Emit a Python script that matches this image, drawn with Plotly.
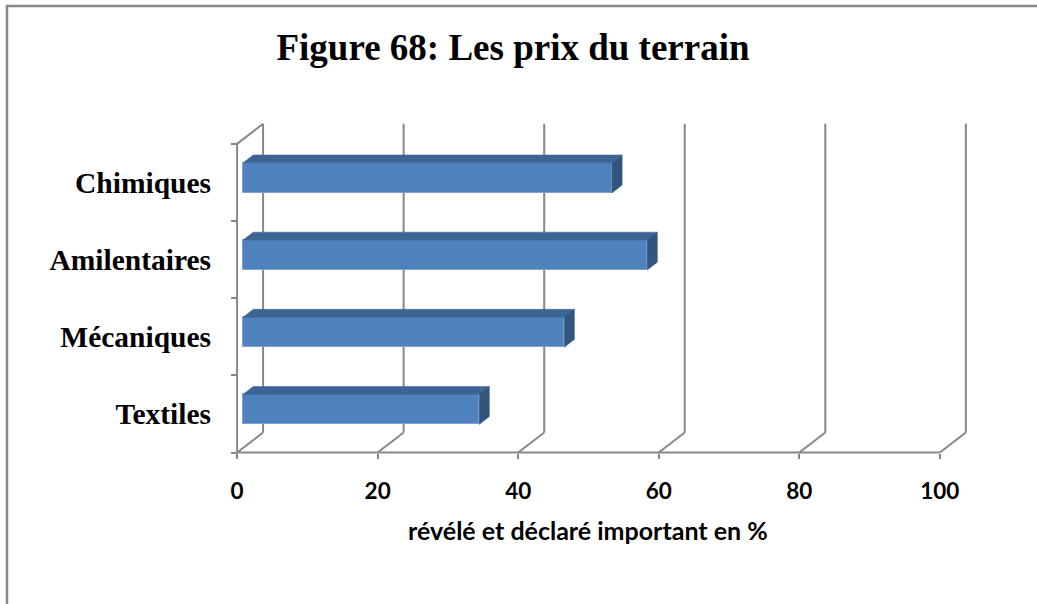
import plotly.graph_objects as go

# Survey results: share of firms that flagged land prices as important (%)
categories = ["Textiles", "Mécaniques", "Amilentaires", "Chimiques"]
values = [33.6, 45.7, 57.5, 52.5]
x_ticks = [0, 20, 40, 60, 80, 100]

title_text = "Figure 68: Les prix du terrain"
x_title = "révélé et déclaré important en %"

# Oblique "3-D" look: depth of the chart walls in data units
DEPTH_X, DEPTH_Y = 3.7, 0.26
BAR_FRONT, BAR_BACK = 0.23, 0.62      # bar slab position inside the depth
BAR_HALF = 0.195                       # half thickness of each bar

X_RANGE = [-3, 106]
Y_RANGE = [-0.7, 3.9]
W, H = 1037, 604
M = dict(l=216, r=55, t=113, b=136)

GRID = "#878787"
FRONT = "#4F81BD"
TOP = "#3D6594"
SIDE = "#31557F"

pos = list(range(len(categories)))
y_lo, y_hi = -0.5, len(categories) - 0.5

fx0, fy0 = BAR_FRONT * DEPTH_X, BAR_FRONT * DEPTH_Y
bx0, by0 = BAR_BACK * DEPTH_X, BAR_BACK * DEPTH_Y
ddx, ddy = bx0 - fx0, by0 - fy0

fig = go.Figure()

# Walls: back gridlines, floor diagonals and the left wall edges
shapes = []
line = dict(color=GRID, width=2)
for v in x_ticks:
    shapes.append(dict(type="line", x0=v + DEPTH_X, x1=v + DEPTH_X,
                       y0=y_lo + DEPTH_Y, y1=y_hi + DEPTH_Y, line=line))
    shapes.append(dict(type="line", x0=v, x1=v + DEPTH_X,
                       y0=y_lo, y1=y_lo + DEPTH_Y, line=line))
shapes.append(dict(type="line", x0=0, x1=0, y0=y_lo, y1=y_hi, line=line))
shapes.append(dict(type="line", x0=0, x1=DEPTH_X, y0=y_hi, y1=y_hi + DEPTH_Y, line=line))
shapes.append(dict(type="line", x0=x_ticks[0], x1=x_ticks[-1], y0=y_lo, y1=y_lo, line=line))
for s in shapes:
    s.update(xref="x", yref="y", layer="below")

# Outer frame of the chart area (pixel based, converted to paper units)
def px_to_paper(px, py):
    pw = W - M["l"] - M["r"]
    ph = H - M["t"] - M["b"]
    return (px - M["l"]) / pw, (H - M["b"] - py) / ph

fx_a, fy_a = px_to_paper(7, 6)
fx_b, fy_b = px_to_paper(W + 20, H + 20)
shapes.append(dict(type="rect", xref="paper", yref="paper",
                   x0=fx_a, y0=fy_b, x1=fx_b, y1=fy_a,
                   line=dict(color=GRID, width=2.5), layer="below"))

# Front faces of the bars
fig.add_trace(go.Bar(
    orientation="h",
    y=[p + fy0 for p in pos],
    x=values,
    base=fx0,
    width=2 * BAR_HALF,
    marker=dict(color=FRONT, line=dict(color="#7FA3D0", width=1)),
    hoverinfo="skip",
    showlegend=False,
))

# Top and right-hand faces of each bar
for p, v in zip(pos, values):
    yt = p + fy0 + BAR_HALF
    yb = p + fy0 - BAR_HALF
    xr = fx0 + v
    fig.add_trace(go.Scatter(
        x=[fx0, xr, xr + ddx, fx0 + ddx, fx0],
        y=[yt, yt, yt + ddy, yt + ddy, yt],
        mode="lines", fill="toself", fillcolor=TOP,
        line=dict(color=TOP, width=0.5),
        hoverinfo="skip", showlegend=False))
    fig.add_trace(go.Scatter(
        x=[xr, xr + ddx, xr + ddx, xr, xr],
        y=[yt, yt + ddy, yb + ddy, yb, yt],
        mode="lines", fill="toself", fillcolor=SIDE,
        line=dict(color=SIDE, width=0.5),
        hoverinfo="skip", showlegend=False))

x_pos = (y_lo - Y_RANGE[0]) / (Y_RANGE[1] - Y_RANGE[0])
y_pos = (0 - X_RANGE[0]) / (X_RANGE[1] - X_RANGE[0])

fig.update_layout(
    width=W, height=H, autosize=False,
    margin=M,
    paper_bgcolor="white", plot_bgcolor="rgba(0,0,0,0)",
    shapes=shapes,
    title=dict(text=title_text, x=513 / W, xanchor="center",
               y=1 - 47 / H, yanchor="middle", xref="container", yref="container",
               font=dict(family="Liberation Serif", size=37, color="black", weight="bold")),
    xaxis=dict(range=X_RANGE, anchor="free", position=x_pos,
               showgrid=False, zeroline=False, showline=False,
               tickvals=x_ticks, ticktext=[str(t) for t in x_ticks],
               ticks="outside", ticklen=5, tickwidth=2, tickcolor=GRID,
               ticklabelstandoff=13,
               tickfont=dict(family="Lato", size=22.5, color="black", weight="bold")),
    yaxis=dict(range=Y_RANGE, anchor="free", position=y_pos,
               showgrid=False, zeroline=False, showline=False,
               tickvals=pos, ticktext=categories, ticks="",
               ticklabelstandoff=26,
               minor=dict(tickvals=[p - 0.5 for p in pos] + [y_hi], ticks="outside",
                          ticklen=6, tickwidth=2, tickcolor=GRID, showgrid=False),
               tickfont=dict(family="Liberation Serif", size=29.5, color="black", weight="bold")),
    annotations=[dict(text=x_title, xref="paper", yref="paper",
                      x=px_to_paper(587.5, 530)[0], y=px_to_paper(587.5, 530)[1],
                      xanchor="center", yanchor="middle", showarrow=False,
                      font=dict(family="Lato", size=25, color="black", weight="bold"))],
    bargap=0,
)

fig.write_html("out.html")
